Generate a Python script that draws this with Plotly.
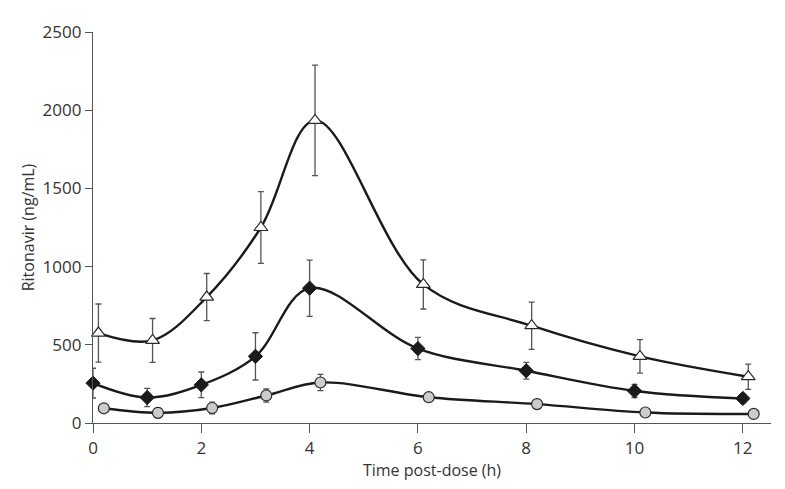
import plotly.graph_objects as go

# Nominal sampling times (h)
times = [0, 1, 2, 3, 4, 6, 8, 10, 12]
# small horizontal offsets used in the figure to separate the series
tri_offset = 0.1
circ_offset = 0.2

# Series values (ng/mL)
tri_mean = [575, 528, 805, 1250, 1935, 886, 622, 426, 296]
tri_sd = [186, 140, 151, 230, 353, 157, 151, 107, 81]

dia_mean = [255, 163, 244, 426, 862, 476, 334, 205, 157]
dia_sd = [95, 58, 82, 151, 180, 71, 54, 42, 28]

circ_mean = [94, 65, 96, 176, 259, 165, 121, 67, 58]
circ_sd = [0, 30, 37, 42, 52, 8, 8, 8, 8]

x_ticks = [0, 2, 4, 6, 8, 10, 12]
y_ticks = [0, 500, 1000, 1500, 2000, 2500]

err_style = dict(type="data", visible=True, color="#555555", thickness=1.3, width=3)
line_style = dict(color="#1a1a1a", width=2.4, shape="spline", smoothing=1.0)

fig = go.Figure()

fig.add_trace(go.Scatter(
    x=[t + circ_offset for t in times], y=circ_mean,
    error_y=dict(array=circ_sd, **err_style),
    mode="lines+markers", line=line_style,
    marker=dict(symbol="circle", size=11, color="#cccccc",
                line=dict(color="#2a2a2a", width=1.2)),
    cliponaxis=False, showlegend=False))

fig.add_trace(go.Scatter(
    x=times, y=dia_mean,
    error_y=dict(array=dia_sd, **err_style),
    mode="lines+markers", line=line_style,
    marker=dict(symbol="diamond", size=11, color="#1a1a1a",
                line=dict(color="#1a1a1a", width=1)),
    cliponaxis=False, showlegend=False))

fig.add_trace(go.Scatter(
    x=[t + tri_offset for t in times], y=tri_mean,
    error_y=dict(array=tri_sd, **err_style),
    mode="lines+markers", line=line_style,
    marker=dict(symbol="triangle-up", size=12, color="white",
                line=dict(color="#2a2a2a", width=1.2)),
    cliponaxis=False, showlegend=False))

axis_font = dict(family="Open Sans, Noto Sans, sans-serif", size=17, color="#333333")

fig.update_layout(
    width=785, height=489,
    margin=dict(l=85, r=22, t=16, b=74),
    plot_bgcolor="white", paper_bgcolor="white",
    font=axis_font,
    xaxis=dict(
        range=[0, 12.52], tickvals=x_ticks, ticktext=[str(v) for v in x_ticks],
        showline=True, linecolor="#555555", linewidth=1.2,
        ticks="outside", ticklen=9, tickcolor="#555555", tickwidth=1.2,
        showgrid=False, zeroline=False,
        title=dict(text="Time post-dose (h)", font=dict(size=16, color="#333333"), standoff=7),
    ),
    yaxis=dict(
        range=[0, 2500], tickvals=y_ticks, ticktext=[str(v) for v in y_ticks],
        showline=True, linecolor="#555555", linewidth=1.2,
        ticks="outside", ticklen=7, tickcolor="#555555", tickwidth=1.2,
        showgrid=False, zeroline=False,
        title=dict(text="Ritonavir (ng/mL)", font=dict(size=16, color="#333333"), standoff=4),
    ),
)

fig.write_html("out.html")
